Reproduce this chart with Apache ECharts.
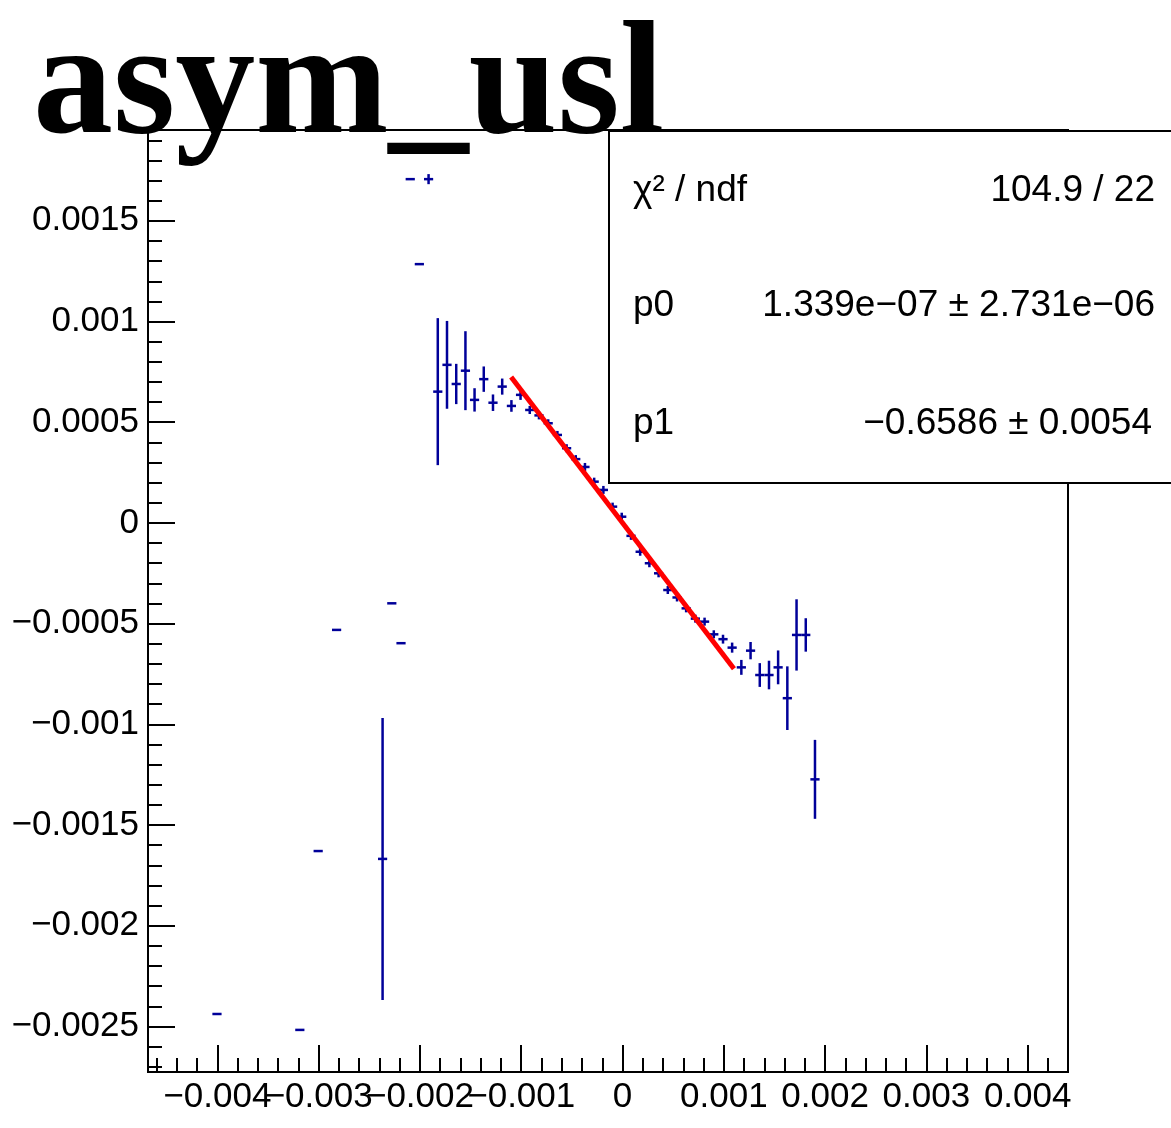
<!DOCTYPE html>
<html>
<head>
<meta charset="utf-8">
<script src="https://cdn.jsdelivr.net/npm/echarts@6/dist/echarts.min.js"></script>
<style>
html,body{margin:0;padding:0;background:#fff;}
#chart{width:1171px;height:1128px;}
</style>
</head>
<body>
<div id="chart"></div>
<script>
// ---- data ----
const titleText = 'asym_usl';
const xMin = -0.004685, xMax = 0.004398;
const yMin = -0.002726, yMax = 0.001951;
const binHalfWidth = 0.0000454;

const binX = [-0.004004,-0.003186,-0.003005,-0.002823,-0.002369,-0.002278,-0.002187,-0.002096,-0.002006,-0.001915,
  -0.001824,-0.001733,-0.001642,-0.001551,-0.001461,-0.001370,-0.001279,-0.001188,-0.001097,-0.001007,
  -0.000916,-0.000825,-0.000734,-0.000643,-0.000552,-0.000462,-0.000371,-0.000280,-0.000189,-0.000098,
  -0.000008,0.0000836,0.000174,0.000265,0.000356,0.000447,0.000538,0.000628,0.000719,0.000810,
  0.000901,0.000992,0.001082,0.001173,0.001264,0.001355,0.001446,0.001536,0.001627,0.001718,
  0.001809,0.001900];
const binY = [-0.002438,-0.002517,-0.001629,-0.000531,-0.001668,-0.000399,-0.000597,0.001707,0.001285,0.001707,
  0.000652,0.000785,0.000690,0.000756,0.000611,0.000714,0.000597,0.000677,0.000581,0.000636,
  0.000561,0.000534,0.000495,0.000437,0.000371,0.000317,0.000278,0.000205,0.000164,0.000081,
  0.000031,-0.000064,-0.000143,-0.000200,-0.000250,-0.000333,-0.000370,-0.000424,-0.000475,-0.000490,
  -0.000553,-0.000577,-0.000619,-0.000717,-0.000634,-0.000755,-0.000755,-0.000717,-0.000870,-0.000556,
  -0.000556,-0.001273];
const binErr = [0,0,0,0,0.00070,0,0,0,0,0.000025,
  0.000365,0.000218,0.000100,0.000196,0.000058,0.000063,0.000041,0.000040,0.000029,0.000025,
  0.000020,0.000018,0.000015,0.000015,0.000015,0.000015,0.000015,0.000015,0.000015,0.000015,
  0.000015,0.000015,0.000015,0.000015,0.000015,0.000015,0.000015,0.000016,0.000017,0.000018,
  0.000020,0.000022,0.000025,0.000037,0.000043,0.000059,0.000071,0.000084,0.000158,0.000177,
  0.000083,0.000196];

const fitX = [-0.0011, 0.0011];
const fitY = [0.000725, -0.000724];

const xTickValues = [-0.004,-0.003,-0.002,-0.001,0,0.001,0.002,0.003,0.004];
const xTickLabels = ['\u22120.004','\u22120.003','\u22120.002','\u22120.001','0','0.001','0.002','0.003','0.004'];
const yTickValues = [-0.0025,-0.002,-0.0015,-0.001,-0.0005,0,0.0005,0.001,0.0015];
const yTickLabels = ['\u22120.0025','\u22120.002','\u22120.0015','\u22120.001','\u22120.0005','0','0.0005','0.001','0.0015'];

const statsLabels = ['\u03C7\u00B2 / ndf', 'p0', 'p1'];
const statsValues = ['104.9 / 22', '1.339e\u221207 \u00B1 2.731e\u221206', '\u22120.6586 \u00B1 0.0054'];

// minor tick positions (axis decoration)
const xMinor = [];
for (let k = -23; k <= 22; k++) { if (k % 5 !== 0) xMinor.push(k * 0.0002); }
const yMinor = [];
for (let k = -27; k <= 19; k++) { if (k % 5 !== 0) yMinor.push(k * 0.0001); }

// x labels overlap in the reference; split them over two axes so none gets hidden
const xLabelsA = xTickValues.filter((v, i) => i % 2 === 0);
const xLabelsB = xTickValues.filter((v, i) => i % 2 === 1);

function labelFor(values, labels) {
  return function (v) {
    for (let i = 0; i < values.length; i++) {
      if (Math.abs(values[i] - v) < 1e-9) return labels[i];
    }
    return '';
  };
}

const pointData = binX.map((x, i) => [x, binY[i], binErr[i]]);
const fitData = fitX.map((x, i) => [x, fitY[i]]);

const chart = echarts.init(document.getElementById('chart'), null, {renderer: 'canvas'});
const axisFont = {fontFamily: 'Liberation Sans', fontSize: 35, color: '#000'};
const statsFont = '37px "Liberation Sans"';
const blue = '#000099';

chart.setOption({
  animation: false,
  backgroundColor: '#fff',
  grid: {left: 148, right: 103, top: 130, bottom: 56, show: true, borderColor: '#000', borderWidth: 2, backgroundColor: 'transparent'},
  xAxis: [{
    type: 'value', min: xMin, max: xMax, position: 'bottom',
    axisLine: {show: true, onZero: false, lineStyle: {color: '#000', width: 2}},
    axisTick: {show: true, inside: true, length: 27, lineStyle: {color: '#000', width: 2}, customValues: xTickValues},
    axisLabel: {show: true, interval: 0, customValues: xLabelsA, formatter: labelFor(xTickValues, xTickLabels), margin: 8,
      hideOverlap: false, showMinLabel: true, showMaxLabel: true, ...axisFont},
    splitLine: {show: false}
  }, {
    type: 'value', min: xMin, max: xMax, position: 'bottom',
    axisLine: {show: false, onZero: false},
    axisTick: {show: true, inside: true, length: 14, lineStyle: {color: '#000', width: 2}, customValues: xMinor},
    axisLabel: {show: true, interval: 0, customValues: xLabelsB, formatter: labelFor(xTickValues, xTickLabels), margin: 8,
      hideOverlap: false, showMinLabel: true, showMaxLabel: true, ...axisFont},
    splitLine: {show: false}
  }],
  yAxis: [{
    type: 'value', min: yMin, max: yMax, position: 'left',
    axisLine: {show: true, onZero: false, lineStyle: {color: '#000', width: 2}},
    axisTick: {show: true, inside: true, length: 27, lineStyle: {color: '#000', width: 2}, customValues: yTickValues},
    axisLabel: {show: true, interval: 0, customValues: yTickValues, formatter: labelFor(yTickValues, yTickLabels), margin: 9,
      hideOverlap: false, showMinLabel: true, showMaxLabel: true, ...axisFont},
    splitLine: {show: false}
  }, {
    type: 'value', min: yMin, max: yMax, position: 'left',
    axisLine: {show: false, onZero: false},
    axisTick: {show: true, inside: true, length: 14, lineStyle: {color: '#000', width: 2}, customValues: yMinor},
    axisLabel: {show: false},
    splitLine: {show: false}
  }],
  series: [{
    type: 'custom',
    xAxisIndex: 0, yAxisIndex: 0,
    data: pointData,
    z: 3,
    renderItem: function (params, api) {
      const x = api.value(0), y = api.value(1), e = api.value(2);
      const pL = api.coord([x - binHalfWidth, y]);
      const pR = api.coord([x + binHalfWidth, y]);
      const pT = api.coord([x, y + e]);
      const pB = api.coord([x, y - e]);
      const st = {stroke: blue, lineWidth: 2.5};
      const children = [{type: 'line', shape: {x1: pL[0], y1: pL[1], x2: pR[0], y2: pR[1]}, style: st}];
      if (e > 0) {
        children.push({type: 'line', shape: {x1: pT[0], y1: Math.min(pT[1], pL[1] - 4), x2: pB[0], y2: Math.max(pB[1], pL[1] + 4)}, style: st});
      }
      return {type: 'group', children: children};
    }
  }, {
    type: 'line',
    xAxisIndex: 0, yAxisIndex: 0,
    data: fitData,
    showSymbol: false,
    z: 4,
    lineStyle: {color: '#ff0000', width: 5}
  }],
  graphic: [
    {type: 'text', left: 33, top: 11, z: 100,
      style: {text: titleText, font: 'bold 160px "Liberation Serif"', fill: '#000'}},
    {type: 'rect', shape: {x: 609, y: 131, width: 620, height: 352}, z: 110,
      style: {fill: '#fff', stroke: '#000', lineWidth: 2}},
    {type: 'text', x: 633, y: 191, z: 120,
      style: {text: statsLabels[0], font: statsFont, fill: '#000', verticalAlign: 'middle', align: 'left'}},
    {type: 'text', x: 1155, y: 191, z: 120,
      style: {text: statsValues[0], font: statsFont, fill: '#000', verticalAlign: 'middle', align: 'right'}},
    {type: 'text', x: 633, y: 306, z: 120,
      style: {text: statsLabels[1], font: statsFont, fill: '#000', verticalAlign: 'middle', align: 'left'}},
    {type: 'text', x: 1155, y: 306, z: 120,
      style: {text: statsValues[1], font: statsFont, fill: '#000', verticalAlign: 'middle', align: 'right'}},
    {type: 'text', x: 633, y: 424, z: 120,
      style: {text: statsLabels[2], font: statsFont, fill: '#000', verticalAlign: 'middle', align: 'left'}},
    {type: 'text', x: 1152, y: 424, z: 120,
      style: {text: statsValues[2], font: statsFont, fill: '#000', verticalAlign: 'middle', align: 'right'}}
  ]
});
</script>
</body>
</html>
